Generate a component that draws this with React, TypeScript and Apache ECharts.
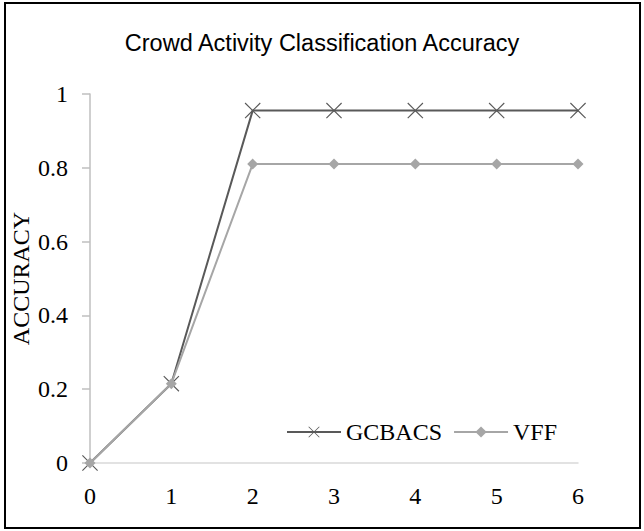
import React, { useEffect, useRef } from "react";
import * as echarts from "echarts";

const xCategories = ["0", "1", "2", "3", "4", "5", "6"];
const gcbacsValues = [0, 0.215, 0.955, 0.955, 0.955, 0.955, 0.955];
const vffValues = [0, 0.215, 0.81, 0.81, 0.81, 0.81, 0.81];
const seriesNames = ["GCBACS", "VFF"];
const titleText = "Crowd Activity Classification Accuracy";
const yAxisName = "ACCURACY";

const crossPath =
  "path://M0,1L1,0L10,9L19,0L20,1L11,10L20,19L19,20L10,11L1,20L0,19L9,10Z";

const serif = "'Liberation Serif', 'Times New Roman', serif";
const sans = "'Liberation Sans', Arial, sans-serif";

export default function App() {
  const ref = useRef<HTMLDivElement>(null);
  useEffect(() => {
    if (!ref.current) return;
    const chart = echarts.init(ref.current, undefined, { renderer: "svg" });
    chart.setOption({
      animation: false,
      backgroundColor: "#ffffff",
      title: {
        text: titleText,
        left: "center",
        top: 26,
        textStyle: { fontFamily: sans, fontSize: 23.5, fontWeight: "normal", color: "#000" },
      },
      grid: { left: 90, right: 66, top: 94, bottom: 68, outerBoundsMode: "none", containLabel: false },
      legend: {
        data: seriesNames,
        left: 286,
        top: 420,
        padding: 0,
        itemWidth: 54,
        itemHeight: 14,
        itemGap: 11,
        textStyle: { fontFamily: serif, fontSize: 24, color: "#000" },
      },
      xAxis: {
        type: "category",
        data: xCategories,
        boundaryGap: false,
        axisLine: { lineStyle: { color: "#d9d9d9", width: 1.5 } },
        axisTick: { show: false },
        axisLabel: { fontFamily: serif, fontSize: 24, color: "#000", margin: 21 },
        splitLine: { show: false },
      },
      yAxis: {
        type: "value",
        min: 0,
        max: 1,
        interval: 0.2,
        name: yAxisName,
        nameLocation: "middle",
        nameGap: 57,
        nameMoveOverlap: false,
        nameTextStyle: { fontFamily: serif, fontSize: 24, color: "#000" },
        axisLine: { show: true, lineStyle: { color: "#bfbfbf", width: 1.5 } },
        axisTick: { show: true, length: 8, lineStyle: { color: "#bfbfbf", width: 1.5 } },
        axisLabel: { fontFamily: serif, fontSize: 24, color: "#000", margin: 22 },
        splitLine: { show: false },
      },
      series: [
        {
          name: seriesNames[0],
          type: "line",
          data: gcbacsValues,
          symbol: crossPath,
          symbolSize: 16,
          showAllSymbol: true,
          lineStyle: { color: "#595959", width: 2 },
          itemStyle: { color: "#595959" },
          z: 2,
        },
        {
          name: seriesNames[1],
          type: "line",
          data: vffValues,
          symbol: "diamond",
          symbolSize: 11,
          showAllSymbol: true,
          lineStyle: { color: "#a6a6a6", width: 2 },
          itemStyle: { color: "#a6a6a6" },
          z: 3,
        },
      ],
      graphic: [
        {
          type: "rect",
          shape: { x: 5, y: 3, width: 635, height: 525 },
          style: { fill: "none", stroke: "#000", lineWidth: 2 },
          silent: true,
        },
      ],
    });
    return () => chart.dispose();
  }, []);
  return (
    <div
      ref={ref}
      style={{ position: "fixed", left: 0, top: 0, width: 644, height: 531 }}
    />
  );
}
